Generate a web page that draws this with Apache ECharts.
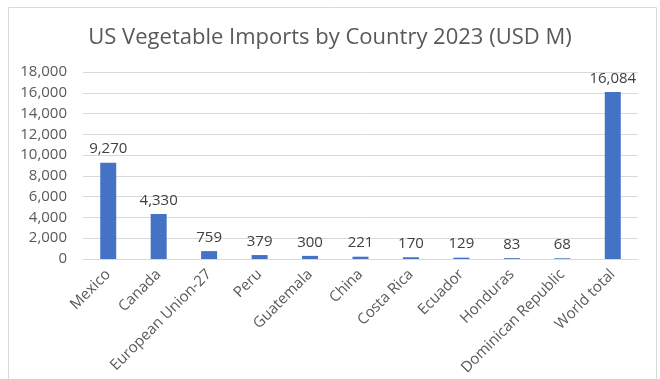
<!DOCTYPE html>
<html>
<head>
<meta charset="utf-8">
<script src="https://cdn.jsdelivr.net/npm/echarts@6/dist/echarts.min.js"></script>
<style>
  html, body { margin: 0; padding: 0; background: #fff; }
  #chart { width: 660px; height: 379px; }
</style>
</head>
<body>
<div id="chart"></div>
<script>
var countries = ['Mexico', 'Canada', 'European Union-27', 'Peru', 'Guatemala', 'China',
    'Costa Rica', 'Ecuador', 'Honduras', 'Dominican Republic', 'World total'];
var imports = [9270, 4330, 759, 379, 300, 221, 170, 129, 83, 68, 16084];

var chartDom = document.getElementById('chart');
var myChart = echarts.init(chartDom);
var font = "'Open Sans', 'Noto Sans', sans-serif";
var option = {
    animation: false,
    textStyle: { fontFamily: font },
    title: {
        text: 'US Vegetable Imports by Country 2023 (USD M)',
        left: 'center',
        top: 22,
        textStyle: { fontSize: 22, fontWeight: 'normal', color: '#595959', fontFamily: font }
    },
    graphic: [{
        type: 'rect',
        shape: { x: 8.5, y: 7.5, width: 648, height: 380 },
        style: { fill: 'none', stroke: '#d9d9d9', lineWidth: 1 },
        silent: true
    }],
    grid: { left: 83, right: 22, top: 72, bottom: 120 },
    xAxis: {
        type: 'category',
        data: countries,
        axisTick: { show: false },
        axisLine: { lineStyle: { color: '#d9d9d9' } },
        axisLabel: { rotate: 45, interval: 0, color: '#595959', fontSize: 15, margin: 13, fontFamily: font }
    },
    yAxis: {
        type: 'value',
        min: 0,
        max: 18000,
        interval: 2000,
        axisLabel: {
            color: '#595959', fontSize: 15, margin: 16, fontFamily: font,
            formatter: function (v) { return v.toLocaleString('en-US'); }
        },
        splitLine: { lineStyle: { color: '#d9d9d9' } }
    },
    series: [{
        type: 'bar',
        data: imports,
        barWidth: 16,
        itemStyle: { color: '#4472c4' },
        label: {
            show: true,
            position: 'top',
            distance: 6,
            color: '#404040',
            fontSize: 15,
            fontFamily: font,
            formatter: function (p) { return p.value.toLocaleString('en-US'); }
        }
    }]
};
myChart.setOption(option);
</script>
</body>
</html>
